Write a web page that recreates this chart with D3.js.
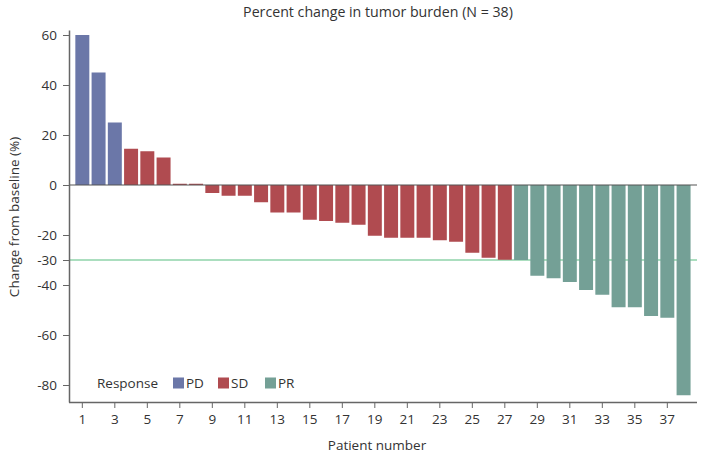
<!DOCTYPE html>
<html><head><meta charset="utf-8">
<script src="https://cdn.jsdelivr.net/npm/d3@7"></script>
<style>
body{margin:0;background:#fff;}
text{font-family:"Open Sans",sans-serif;fill:#333;}
</style></head>
<body><svg id="c" width="705" height="456"></svg>
<script>
const patients = d3.range(1, 39);
const changes = [60, 45, 25, 14.5, 13.5, 11, 0.5, 0.5, -3.2, -4.3, -4.3, -6.9, -11, -11, -13.9, -14.4, -15.1, -15.9, -20.3, -21.1, -21.1, -21.1, -22.1, -22.7, -27.1, -29.1, -29.9, -30, -36.3, -37.3, -38.8, -42, -43.9, -48.9, -48.9, -52.4, -53.1, -84.1];
const responses = ["PD","PD","PD","SD","SD","SD","SD","SD","SD","SD","SD","SD","SD","SD","SD","SD","SD","SD","SD","SD","SD","SD","SD","SD","SD","SD","SD","PR","PR","PR","PR","PR","PR","PR","PR","PR","PR","PR"];
const responseTypes = ["PD","SD","PR"];
const responseColors = ["#6b77a8","#b04b50","#74a096"];
const yTicks = [60, 40, 20, 0, -20, -30, -40, -60, -80];
const xTickLabels = d3.range(1, 39, 2);
const threshold = -30;
const title = "Percent change in tumor burden (N = 38)";

const svg = d3.select("#c");
const x = d3.scaleBand().domain(patients).range([74.2, 691.7]).paddingInner(0.14).paddingOuter(0.07);
const y = d3.scaleLinear().domain([-86.8, 62]).range([402, 30]);
const color = d3.scaleOrdinal().domain(responseTypes).range(responseColors);
const axisColor = "#666";

// threshold line
svg.append("line").attr("x1", 69).attr("x2", 697).attr("y1", y(threshold)).attr("y2", y(threshold))
  .attr("stroke", "#8fd3aa").attr("stroke-width", 1.3);

// bars
svg.append("g").selectAll("rect").data(patients).join("rect")
  .attr("x", d => x(d))
  .attr("width", x.bandwidth())
  .attr("y", (d,i) => y(Math.max(0, changes[i])))
  .attr("height", (d,i) => Math.abs(y(changes[i]) - y(0)))
  .attr("fill", (d,i) => color(responses[i]));

// zero line
svg.append("line").attr("x1", 69).attr("x2", 697).attr("y1", y(0)).attr("y2", y(0))
  .attr("stroke", "#555").attr("stroke-width", 1.2);

// y axis
const yAxis = svg.append("g").attr("transform", "translate(69,0)")
  .call(d3.axisLeft(y).tickValues(yTicks).tickFormat(d => String(d)).tickSize(6).tickPadding(6).tickSizeOuter(0));
yAxis.select(".domain").attr("stroke", axisColor).attr("stroke-width", 1.5);
yAxis.selectAll(".tick line").attr("stroke", axisColor);
yAxis.selectAll("text").attr("font-size", 13.5).attr("font-family", '"Open Sans",sans-serif').attr("fill", "#333");

// x axis
const xAxis = svg.append("g").attr("transform", "translate(0,402)")
  .call(d3.axisBottom(x).tickValues(xTickLabels).tickSize(6).tickPadding(6).tickSizeOuter(0));
xAxis.select(".domain").attr("d", "M69,0.5H697").attr("stroke", axisColor).attr("stroke-width", 1.5);
xAxis.selectAll(".tick line").attr("stroke", axisColor);
xAxis.selectAll("text").attr("font-size", 13.5).attr("font-family", '"Open Sans",sans-serif').attr("fill", "#333");

// titles
svg.append("text").attr("x", 378).attr("y", 17).attr("text-anchor", "middle").attr("font-size", 14.2).text(title);
svg.append("text").attr("x", 377).attr("y", 450).attr("text-anchor", "middle").attr("font-size", 13.5).text("Patient number");
svg.append("text").attr("transform", "translate(19,217) rotate(-90)").attr("text-anchor", "middle").attr("font-size", 13.5).text("Change from baseline (%)");

// legend
const lg = svg.append("g");
lg.append("text").attr("x", 97).attr("y", 388).attr("font-size", 13.5).text("Response");
const lx = [173, 218, 265];
responseTypes.forEach((r, i) => {
  lg.append("rect").attr("x", lx[i]).attr("y", 377.5).attr("width", 11).attr("height", 11).attr("fill", color(r));
  lg.append("text").attr("x", lx[i] + 13).attr("y", 388).attr("font-size", 13.5).text(r);
});
</script></body></html>
